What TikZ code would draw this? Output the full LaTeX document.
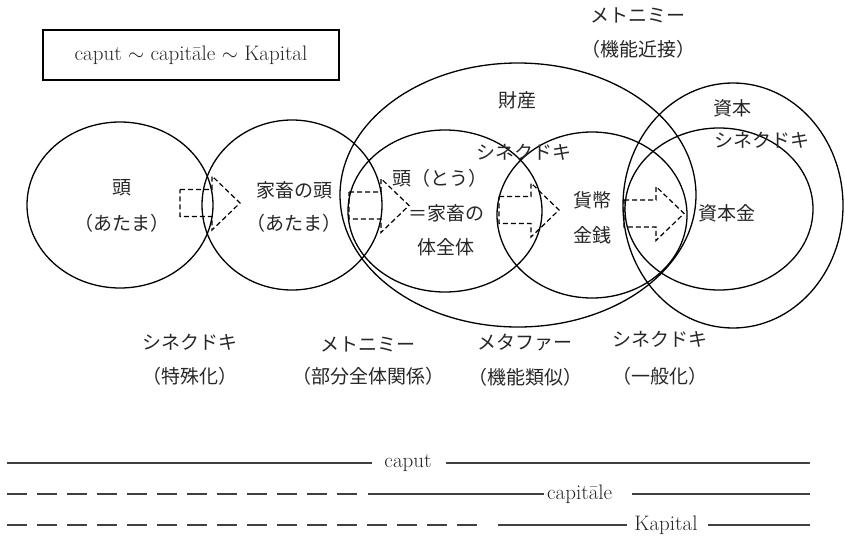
\documentclass[tikz,border=0pt]{standalone}
\usepackage{fontspec}
\newfontfamily\jp{Noto Sans CJK JP}
\usetikzlibrary{shapes.geometric}

\tikzset{
	oval/.style={draw, ellipse, line width=1.3pt, inner sep=0pt},
	jlabel/.style={font=\jp\fontsize{19}{22}\selectfont, text=black!85, inner sep=0pt},
	llabel/.style={font=\fontsize{21}{25}\selectfont, text=black!85, inner sep=0pt},
	fatdash/.style={draw, line width=1.2pt, dash pattern=on 5pt off 3pt},
	pics/fatarrow/.style={code={
		\draw[fatdash] (0,-13.5) -- (32,-13.5) -- (32,-27) -- (60,0) -- (32,27) -- (32,13.5) -- (0,13.5) -- cycle;
	}},
	rule/.style={line width=1.2pt, black!75},
	brokenrule/.style={rule, dash pattern=on 20pt off 10pt},
}

\begin{document}
\begin{tikzpicture}[x=1pt, y=-1pt]
	\useasboundingbox (0,0) rectangle (845,543);

	\node[draw, line width=1.2pt, minimum width=296pt, minimum height=50pt, llabel] (gogen) at (191,55) {caput $\sim$ capitāle $\sim$ Kapital};

	\node[oval, minimum width=186pt, minimum height=166pt] (atama) at (120,205) {};
	\node[oval, minimum width=180pt, minimum height=170pt] (kachiku) at (292,205) {};
	\node[oval, minimum width=356pt, minimum height=264pt] (zaisan) at (518,195) {};
	\node[oval, minimum width=194pt, minimum height=162pt] (tou) at (445,211) {};
	\node[oval, minimum width=190pt, minimum height=166pt] (kahei) at (592,215) {};
	\node[oval, minimum width=220pt, minimum height=245pt] (shihon) at (733,205.5) {};
	\node[oval, minimum width=188pt, minimum height=162pt] (shihonkin) at (719,209) {};

	\node[jlabel] (atamaA) at (122,188) {頭};
	\node[jlabel] (atamaB) at (122,223) {（あたま）};
	\node[jlabel] (kachikuA) at (294,190) {家畜の頭};
	\node[jlabel] (kachikuB) at (294,223) {（あたま）};
	\node[jlabel] (touA) at (440,178) {頭（とう）};
	\node[jlabel] (touB) at (446,213) {＝家畜の};
	\node[jlabel] (touC) at (446,247) {体全体};
	\node[jlabel] (kaheiA) at (592,200) {貨幣};
	\node[jlabel] (kaheiB) at (592,235) {金銭};
	\node[jlabel] (shihonkinA) at (727,213) {資本金};
	\node[jlabel] (zaisanA) at (517,100) {財産};
	\node[jlabel] (shihonA) at (732,108) {資本};
	\node[jlabel] (synA) at (762,140) {シネクドキ};
	\node[jlabel] (synB) at (524,152) {シネクドキ};
	\node[jlabel] (metoA) at (638,15) {メトニミー};
	\node[jlabel] (metoB) at (638,49) {（機能近接）};

	\pic (arrA) at (180,203) {fatarrow};
	\pic (arrB) at (349,205.5) {fatarrow};
	\pic (arrC) at (499,210) {fatarrow};
	\pic (arrD) at (624,213.5) {fatarrow};

	\node[jlabel] (rel1A) at (190,342) {シネクドキ};
	\node[jlabel] (rel1B) at (190,376) {（特殊化）};
	\node[jlabel] (rel2A) at (368,344) {メトニミー};
	\node[jlabel] (rel2B) at (368,376) {（部分全体関係）};
	\node[jlabel] (rel3A) at (525,343) {メタファー};
	\node[jlabel] (rel3B) at (525,377) {（機能類似）};
	\node[jlabel] (rel4A) at (660,339) {シネクドキ};
	\node[jlabel] (rel4B) at (660,376) {（一般化）};

	\node[llabel] (caput) at (408,463) {caput};
	\draw[rule] (7,463) -- (372,463);
	\draw[rule] (446,463) -- (810,463);

	\node[llabel, anchor=west] (capitale) at (547,494) {capitāle};
	\draw[brokenrule] (7,494) -- (357,494);
	\draw[rule] (368,494) -- (544,494);
	\draw[rule] (632,494) -- (810,494);

	\node[llabel] (kapital) at (666,525) {Kapital};
	\draw[brokenrule] (7,525) -- (477,525);
	\draw[rule] (498,525) -- (627,525);
	\draw[rule] (708,525) -- (810,525);
\end{tikzpicture}
\end{document}
